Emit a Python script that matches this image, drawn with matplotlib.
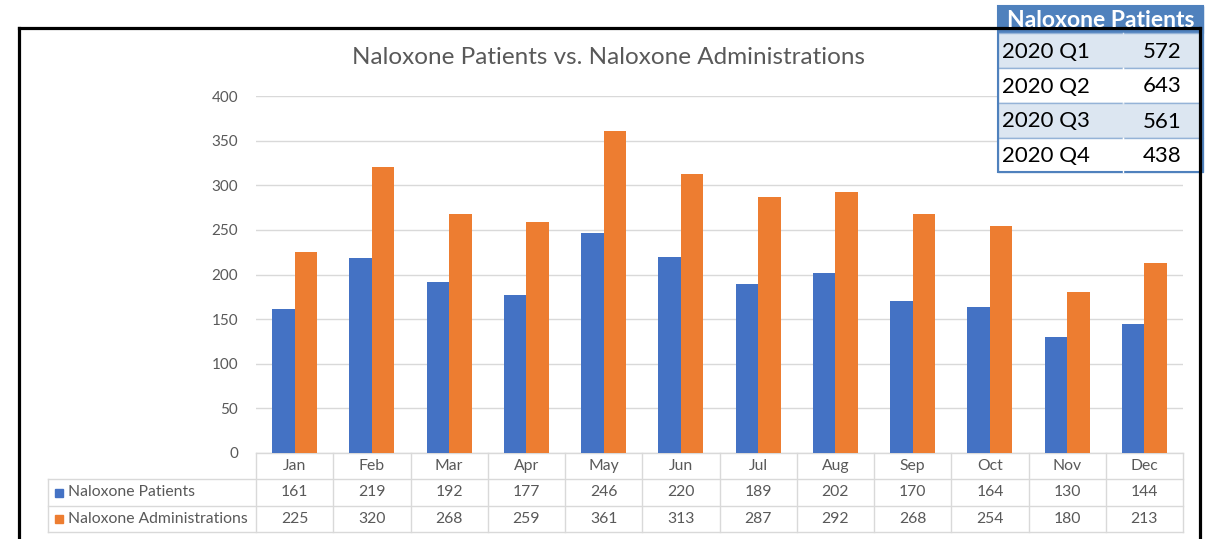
import matplotlib
matplotlib.use("Agg")
import matplotlib.pyplot as plt
from matplotlib.patches import Rectangle
import numpy as np

# -------------------------
# Data
# -------------------------
months = ["Jan", "Feb", "Mar", "Apr", "May", "Jun",
          "Jul", "Aug", "Sep", "Oct", "Nov", "Dec"]
patients = [161, 219, 192, 177, 246, 220, 189, 202, 170, 164, 130, 144]
administrations = [225, 320, 268, 259, 361, 313, 287, 292, 268, 254, 180, 213]
series_names = ["Naloxone Patients", "Naloxone Administrations"]

quarters = ["2020 Q1", "2020 Q2", "2020 Q3", "2020 Q4"]
quarter_patients = [572, 643, 561, 438]

title = "Naloxone Patients vs. Naloxone Administrations"

# -------------------------
# Style
# -------------------------
plt.rcParams['font.family'] = ['Lato', 'DejaVu Sans']
BLUE = "#4472c4"
ORANGE = "#ed7d31"
GREY_TXT = "#595959"
GRID = "#d9d9d9"
TBL_FS = 11.3

W, H = 1208, 539
fig = plt.figure(figsize=(W / 100, H / 100), dpi=100)


def fx(px):
    return px / W


def fy(py):
    return 1 - py / H


# chart border (black frame)
for xs, ys in [((18.5, 18.5), (28, 539)), ((18.5, 1199.5), (28, 28)),
               ((1199.5, 1199.5), (28, 539))]:
    fig.add_artist(plt.Line2D([fx(v) for v in xs], [fy(v) for v in ys],
                              color="black", lw=2.3, transform=fig.transFigure))

fig.text(fx(609), fy(57), title, ha="center", va="center",
         fontsize=17.5, color=GREY_TXT)

# -------------------------
# Bars
# -------------------------
ax_l, ax_r, ax_b, ax_t = 256, 1183, 453, 96
ax = fig.add_axes([fx(ax_l), fy(ax_b), fx(ax_r) - fx(ax_l), fy(ax_t) - fy(ax_b)])
x = np.arange(len(months))
bw = 0.29
ax.bar(x - bw / 2, patients, bw, color=BLUE, zorder=3)
ax.bar(x + bw / 2, administrations, bw, color=ORANGE, zorder=3)
ax.set_xlim(-0.5, len(months) - 0.5)
ax.set_ylim(0, 400)
ax.set_yticks(range(0, 401, 50))
ax.yaxis.grid(True, color=GRID, lw=1)
ax.set_xticks([])
for s in ax.spines.values():
    s.set_visible(False)
ax.tick_params(axis="y", length=0, pad=13, labelcolor=GREY_TXT, labelsize=11)

# -------------------------
# Data table under the chart
# -------------------------
ax_h = ax_b - ax_t
trans = ax.get_xaxis_transform()


def ay(py):
    return (ax_b - py) / ax_h


col_w = (ax_r - ax_l) / len(months)
x_left = (48 - ax_l) / col_w - 0.5
r0, r1, r2, r3 = ay(453), ay(479), ay(506), ay(532)
lkw = dict(color=GRID, lw=1, transform=trans, clip_on=False, zorder=1)

ax.plot([-0.5, len(months) - 0.5], [r0, r0], **lkw)
for y in (r1, r2, r3):
    ax.plot([x_left, len(months) - 0.5], [y, y], **lkw)
for i in range(len(months) + 1):
    ax.plot([i - 0.5, i - 0.5], [r0, r3], **lkw)
ax.plot([x_left, x_left], [r1, r3], **lkw)

tkw = dict(transform=trans, clip_on=False, ha="center", va="center",
           fontsize=TBL_FS, color=GREY_TXT)
for i, m in enumerate(months):
    ax.text(i, (r0 + r1) / 2, m, **tkw)
    ax.text(i, (r1 + r2) / 2, str(patients[i]), **tkw)
    ax.text(i, (r2 + r3) / 2, str(administrations[i]), **tkw)

sq_w = 8 / col_w
sq_h = 8 / ax_h
x_sq = (55 - ax_l) / col_w - 0.5
x_lab = (68 - ax_l) / col_w - 0.5
for name, color, (ya, yb) in zip(series_names, [BLUE, ORANGE], [(r1, r2), (r2, r3)]):
    ym = (ya + yb) / 2
    ax.add_patch(Rectangle((x_sq, ym - sq_h / 2), sq_w, sq_h, color=color,
                           transform=trans, clip_on=False))
    ax.text(x_lab, ym, name, transform=trans, clip_on=False, ha="left",
            va="center", fontsize=TBL_FS, color=GREY_TXT)

# -------------------------
# Quarter summary table (top right)
# -------------------------
tl, tr, tm = 998, 1203, 1123
row_edges = [6, 33, 68, 103, 138, 172]
HEAD = "#4f81bd"
LIGHT = "#dce6f1"
EDGE = "#95b3d7"


def frect(x0, y0, x1, y1, **kw):
    fig.add_artist(Rectangle((fx(x0), fy(y1)), fx(x1) - fx(x0), fy(y0) - fy(y1),
                             transform=fig.transFigure, **kw))


frect(tl, row_edges[0], tr, row_edges[1], facecolor=HEAD, edgecolor=HEAD, lw=1)
fig.text(fx((tl + tr) / 2), fy((row_edges[0] + row_edges[1]) / 2 + 1),
         "Naloxone Patients", ha="center", va="center", color="white",
         fontsize=16.5, fontweight="bold")
for i, (q, v) in enumerate(zip(quarters, quarter_patients)):
    y0, y1 = row_edges[i + 1], row_edges[i + 2]
    fc = LIGHT if i % 2 == 0 else "white"
    frect(tl, y0, tr, y1, facecolor=fc, edgecolor=EDGE, lw=1)
    fig.add_artist(plt.Line2D([fx(tm), fx(tm)], [fy(y0), fy(y1)], color=fc,
                              lw=1, transform=fig.transFigure))
    ym = fy((y0 + y1) / 2 + 1)
    fig.text(fx(tl + 4), ym, q, ha="left", va="center", fontsize=16,
             color="black")
    fig.text(fx(1162), ym, str(v), ha="center", va="center", fontsize=16,
             color="black")
frect(tl, row_edges[0], tr, row_edges[-1], facecolor="none", edgecolor=HEAD, lw=1.5)

fig.savefig("out.png", dpi=100)
